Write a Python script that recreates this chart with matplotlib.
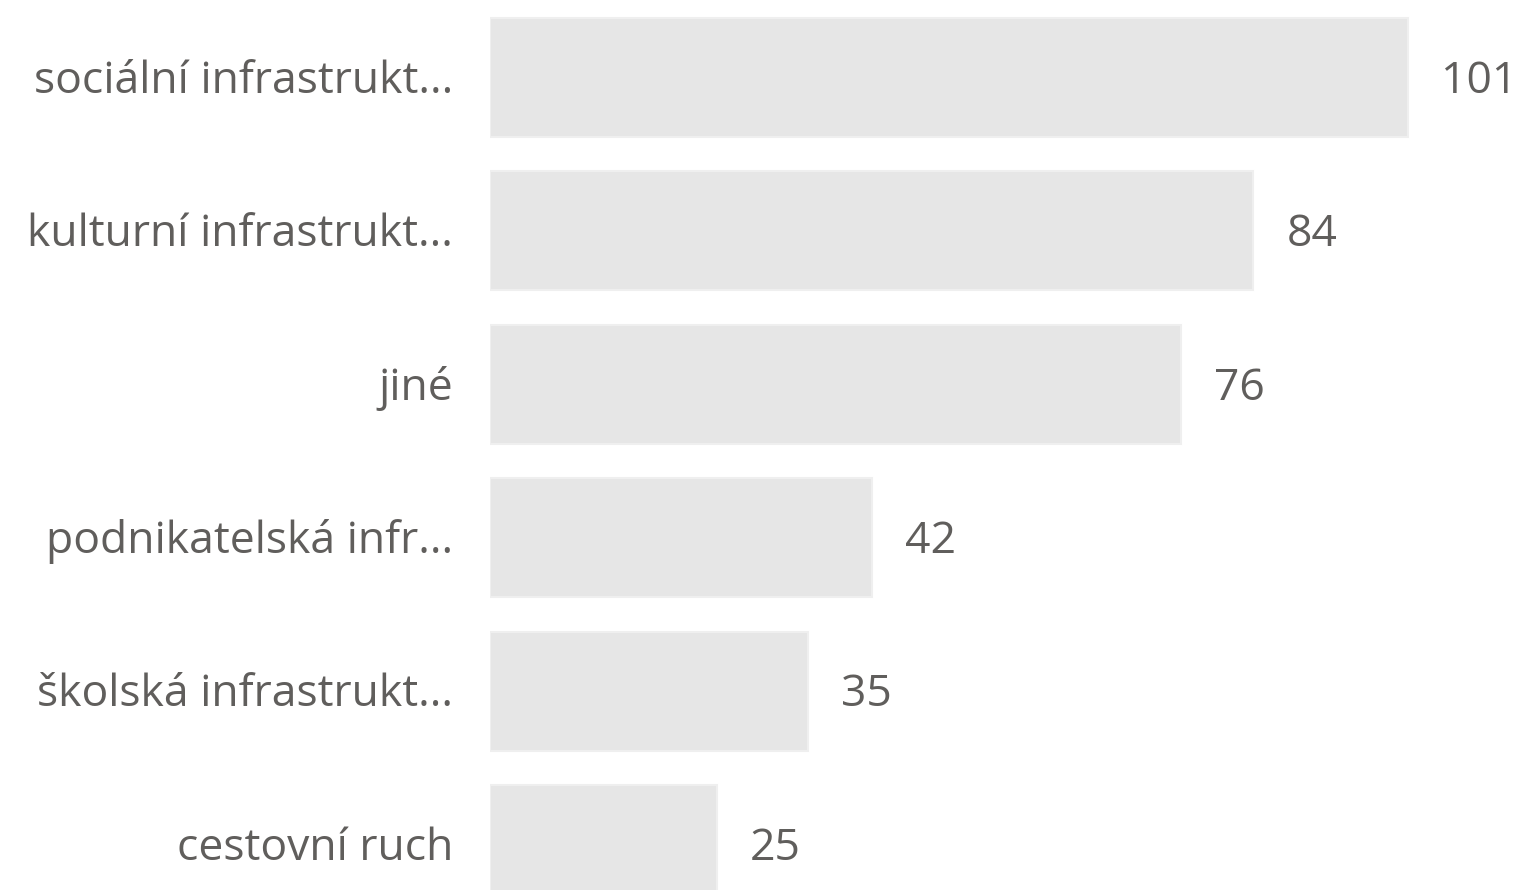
import matplotlib
matplotlib.use("Agg")
import matplotlib.pyplot as plt

categories = ["sociální infrastrukt...", "kulturní infrastrukt...", "jiné",
              "podnikatelská infr...", "školská infrastrukt...", "cestovní ruch"]
values = [101, 84, 76, 42, 35, 25]

W, H = 1520, 890
fig = plt.figure(figsize=(W / 100, H / 100), dpi=100)
left_px = 490
px_per_unit = (1408 - 490) / 101
ax = fig.add_axes([left_px / W, 0, 1 - left_px / W, 1])
ax.set_xlim(0, (W - left_px) / px_per_unit)
pitch = 153.4
c0 = 77.5
ax.set_ylim((H - c0) / pitch, -c0 / pitch)
ax.axis("off")

txt_color = "#605e5c"
font = "Open Sans"
fs = 32
dy = 4 / pitch
ys = list(range(len(categories)))
ax.barh(ys, values, height=0.775, color="#e6e6e6", edgecolor="#efefef", linewidth=1.5)
for y, cat, v in zip(ys, categories, values):
    ax.text(v + 33 / px_per_unit, y + dy, str(v), va="center", ha="left",
            fontsize=fs, color=txt_color, family=font, clip_on=False)
    fig.text((left_px - 37) / W, 1 - (c0 + 4 + pitch * y) / H, cat, va="center", ha="right",
             fontsize=fs, color=txt_color, family=font)

fig.savefig("out.png", dpi=100)
